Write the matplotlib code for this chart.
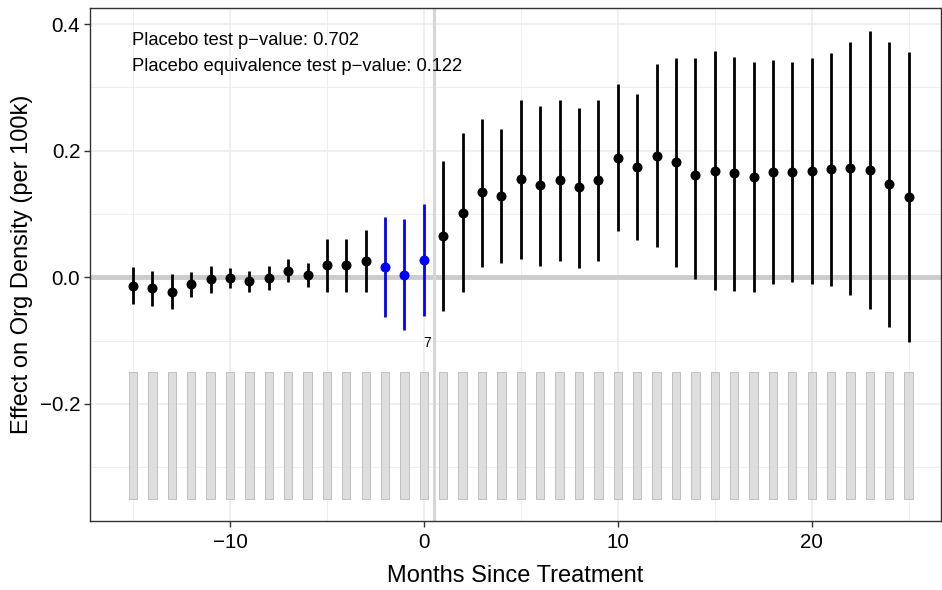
import matplotlib
matplotlib.use("Agg")
import matplotlib.pyplot as plt
from matplotlib.ticker import MultipleLocator

plt.rcParams['font.family'] = ['Liberation Sans', 'DejaVu Sans']

months = [-15, -14, -13, -12, -11, -10, -9, -8, -7, -6, -5, -4, -3, -2, -1, 0,
          1, 2, 3, 4, 5, 6, 7, 8, 9, 10, 11, 12, 13, 14, 15, 16, 17, 18, 19, 20,
          21, 22, 23, 24, 25]
estimate = [-0.013, -0.017, -0.023, -0.010, -0.003, -0.001, -0.006, -0.001, 0.010, 0.003,
            0.019, 0.019, 0.025, 0.017, 0.004, 0.028,
            0.065, 0.102, 0.134, 0.128, 0.155, 0.145, 0.154, 0.142, 0.153, 0.189,
            0.175, 0.192, 0.182, 0.162, 0.168, 0.164, 0.158, 0.167, 0.167, 0.168,
            0.171, 0.172, 0.170, 0.147, 0.127]
ci_lower = [-0.042, -0.046, -0.050, -0.031, -0.025, -0.017, -0.023, -0.020, -0.008, -0.015,
            -0.023, -0.024, -0.023, -0.062, -0.083, -0.061,
            -0.054, -0.024, 0.017, 0.022, 0.029, 0.018, 0.026, 0.014, 0.026, 0.073,
            0.059, 0.048, 0.016, -0.003, -0.020, -0.021, -0.023, -0.010, -0.007, -0.010,
            -0.013, -0.028, -0.050, -0.079, -0.102]
ci_upper = [0.016, 0.010, 0.005, 0.009, 0.018, 0.015, 0.010, 0.018, 0.029, 0.022,
            0.061, 0.061, 0.074, 0.096, 0.092, 0.116,
            0.184, 0.228, 0.250, 0.235, 0.280, 0.271, 0.280, 0.267, 0.280, 0.305,
            0.289, 0.337, 0.346, 0.346, 0.358, 0.348, 0.340, 0.343, 0.340, 0.347,
            0.355, 0.371, 0.389, 0.372, 0.356]
n_treated = [7, 7, 7, 7, 7, 7, 7, 7, 7, 7, 7, 7, 7, 7, 7, 7, 7, 7, 7, 7, 7,
             7, 7, 7, 7, 7, 7, 7, 7, 7, 7, 7, 7, 7, 7, 7, 7, 7, 7, 7, 7]
placebo_months = [-2, -1, 0]
annotations = ["Placebo test p\u2212value: 0.702",
               "Placebo equivalence test p\u2212value: 0.122"]
count_label = "7"

fig = plt.figure(figsize=(9.42, 5.9), dpi=100)
ax = fig.add_axes([90/942, 1-521/590, 851/942, 513/590])

# grid
ax.set_xlim(-17.22, 26.67)
ax.set_ylim(-0.385, 0.4254)
ax.xaxis.set_major_locator(MultipleLocator(10))
ax.xaxis.set_minor_locator(MultipleLocator(5))
ax.yaxis.set_major_locator(MultipleLocator(0.2))
ax.yaxis.set_minor_locator(MultipleLocator(0.1))
ax.grid(which='major', color='#EBEBEB', linewidth=1.1, zorder=0)
ax.grid(which='minor', color='#EBEBEB', linewidth=0.6, zorder=0)
ax.set_axisbelow(True)

# reference lines
ax.axhline(0, color='#CCCCCC', linewidth=3.5, zorder=1)
ax.axvline(0.5, color='#D6D6D6', linewidth=2.2, zorder=1)

# count bars at bottom
bar_base = -0.35
bar_span = 0.2
max_n = max(n_treated)
heights = [bar_span * n / max_n for n in n_treated]
ax.bar(months, heights, bottom=bar_base, width=0.43, color='#D9D9D9',
       edgecolor='#B0B0B0', linewidth=0.6, alpha=0.85, zorder=2)
ax.text(0.15, -0.104, count_label, fontsize=10, ha='center', va='center', color='black')

# error bars + points
for m, e, lo, hi in zip(months, estimate, ci_lower, ci_upper):
    c = 'blue' if m in placebo_months else 'black'
    ax.plot([m, m], [lo, hi], color=c, linewidth=2.0, solid_capstyle='butt', zorder=3)
    ax.plot([m], [e], 'o', color=c, markersize=6.2, zorder=4)

for i, t in enumerate(annotations):
    ax.text(-15.05, 0.374 - i * 0.041, t, fontsize=13.2, ha='left', va='center',
            color='black')

for sp in ax.spines.values():
    sp.set_color('#333333')
    sp.set_linewidth(1.0)

ax.tick_params(axis='both', which='major', labelsize=14.8, colors='#333333',
               labelcolor='black', length=4, width=1, pad=5)
ax.tick_params(axis='y', which='major', pad=3)
ax.tick_params(axis='both', which='minor', length=0)
ax.set_xticks([-10, 0, 10, 20])
ax.set_xticklabels(['\u221210', '0', '10', '20'])
ax.set_yticks([-0.2, 0.0, 0.2, 0.4])
ax.set_yticklabels(['\u22120.2', '0.0', '0.2', '0.4'])
ax.set_xlabel('Months Since Treatment', fontsize=17, labelpad=9)
ax.set_ylabel('Effect on Org Density (per 100k)', fontsize=17, labelpad=5)

fig.savefig('out.png', dpi=100)
